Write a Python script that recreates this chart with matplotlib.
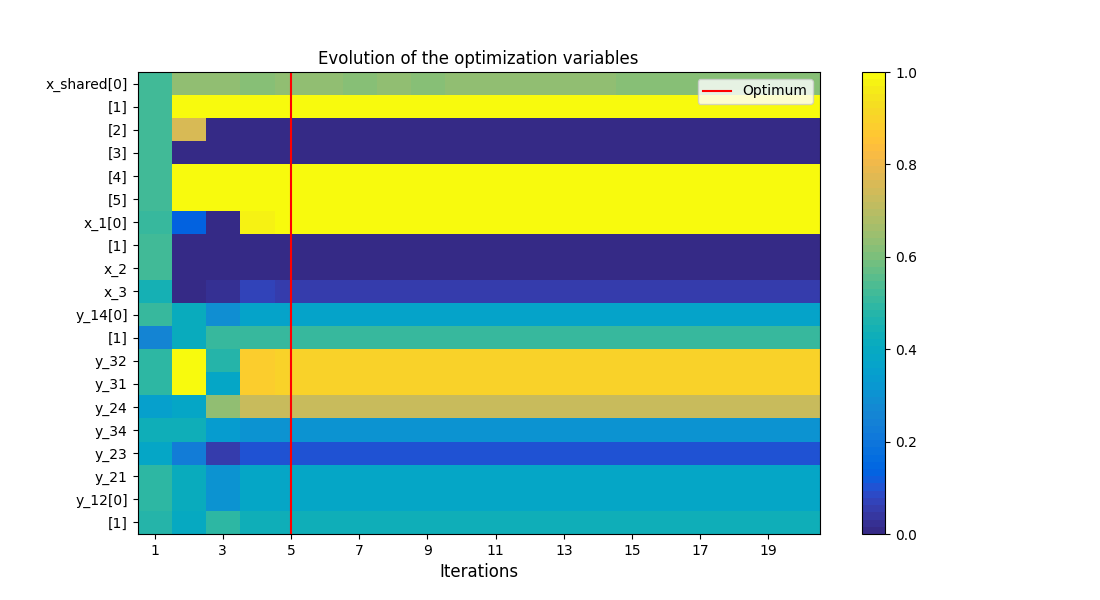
import numpy as np
import matplotlib
matplotlib.use("Agg")
import matplotlib.pyplot as plt
from matplotlib.colors import LinearSegmentedColormap

# parula (R2014b) 64-colour table
PARULA = [
    [0.2081, 0.1663, 0.5292], [0.2116, 0.1898, 0.5777], [0.2123, 0.2138, 0.6270],
    [0.2081, 0.2386, 0.6771], [0.1959, 0.2645, 0.7279], [0.1707, 0.2919, 0.7792],
    [0.1253, 0.3242, 0.8303], [0.0591, 0.3598, 0.8683], [0.0117, 0.3875, 0.8820],
    [0.0060, 0.4086, 0.8828], [0.0165, 0.4266, 0.8786], [0.0329, 0.4430, 0.8720],
    [0.0498, 0.4586, 0.8641], [0.0629, 0.4737, 0.8554], [0.0723, 0.4887, 0.8467],
    [0.0779, 0.5040, 0.8384], [0.0793, 0.5200, 0.8312], [0.0749, 0.5375, 0.8263],
    [0.0641, 0.5570, 0.8240], [0.0488, 0.5772, 0.8228], [0.0343, 0.5966, 0.8199],
    [0.0265, 0.6137, 0.8135], [0.0239, 0.6287, 0.8038], [0.0231, 0.6418, 0.7913],
    [0.0228, 0.6535, 0.7768], [0.0267, 0.6642, 0.7607], [0.0384, 0.6743, 0.7436],
    [0.0590, 0.6838, 0.7254], [0.0843, 0.6928, 0.7062], [0.1133, 0.7015, 0.6859],
    [0.1453, 0.7098, 0.6646], [0.1801, 0.7177, 0.6424], [0.2178, 0.7250, 0.6193],
    [0.2586, 0.7317, 0.5954], [0.3022, 0.7376, 0.5712], [0.3482, 0.7424, 0.5473],
    [0.3953, 0.7459, 0.5244], [0.4420, 0.7481, 0.5033], [0.4871, 0.7491, 0.4840],
    [0.5300, 0.7491, 0.4661], [0.5709, 0.7485, 0.4494], [0.6099, 0.7473, 0.4337],
    [0.6473, 0.7456, 0.4188], [0.6834, 0.7435, 0.4044], [0.7184, 0.7411, 0.3905],
    [0.7525, 0.7384, 0.3768], [0.7858, 0.7356, 0.3633], [0.8185, 0.7327, 0.3498],
    [0.8507, 0.7299, 0.3360], [0.8824, 0.7274, 0.3217], [0.9139, 0.7258, 0.3063],
    [0.9450, 0.7261, 0.2886], [0.9739, 0.7314, 0.2666], [0.9938, 0.7455, 0.2403],
    [0.9990, 0.7653, 0.2164], [0.9955, 0.7861, 0.1967], [0.9880, 0.8066, 0.1794],
    [0.9789, 0.8271, 0.1633], [0.9697, 0.8481, 0.1475], [0.9626, 0.8705, 0.1309],
    [0.9589, 0.8949, 0.1132], [0.9598, 0.9218, 0.0948], [0.9661, 0.9514, 0.0755],
    [0.9763, 0.9831, 0.0538],
]
cmap = LinearSegmentedColormap.from_list("parula", PARULA, N=64)

ROW_LABELS = ["x_shared[0]", "[1]", "[2]", "[3]", "[4]", "[5]", "x_1[0]", "[1]",
              "x_2", "x_3", "y_14[0]", "[1]", "y_32", "y_31", "y_24", "y_34",
              "y_23", "y_21", "y_12[0]", "[1]"]
N_ITER = 20
OPT_ITER = 5

# normalised design values per variable, iterations 1..20
x_shared_0 = [0.52, 0.64, 0.64, 0.62, 0.64, 0.64, 0.62, 0.64, 0.62, 0.64,
              0.64, 0.64, 0.64, 0.64, 0.62, 0.62, 0.62, 0.62, 0.62, 0.62]
x_shared_1 = [0.52] + [1.0] * 19
x_shared_2 = [0.52, 0.765] + [0.0] * 18
x_shared_3 = [0.52] + [0.0] * 19
x_shared_4 = [0.52] + [1.0] * 19
x_shared_5 = [0.52] + [1.0] * 19
x_1_0 = [0.50, 0.127, 0.0, 0.97] + [1.0] * 16
x_1_1 = [0.52] + [0.0] * 19
x_2 = [0.52] + [0.0] * 19
x_3 = [0.44, 0.0, 0.02, 0.075] + [0.055] * 16
y_14_0 = [0.51, 0.41, 0.29] + [0.365] * 17
y_14_1 = [0.265, 0.41] + [0.51] * 18
y_32 = [0.49, 1.0, 0.476, 0.875] + [0.905] * 16
y_31 = [0.49, 1.0, 0.38, 0.875] + [0.905] * 16
y_24 = [0.35, 0.375, 0.635] + [0.72] * 17
y_34 = [0.43, 0.43, 0.335] + [0.31] * 17
y_23 = [0.38, 0.22, 0.06] + [0.095] * 17
y_21 = [0.49, 0.42, 0.31] + [0.38] * 17
y_12_0 = [0.49, 0.42, 0.31] + [0.38] * 17
y_12_1 = [0.47, 0.40, 0.49] + [0.43] * 17

data = np.array([x_shared_0, x_shared_1, x_shared_2, x_shared_3, x_shared_4,
                 x_shared_5, x_1_0, x_1_1, x_2, x_3, y_14_0, y_14_1, y_32, y_31,
                 y_24, y_34, y_23, y_21, y_12_0, y_12_1])

fig = plt.figure(figsize=(11, 6), dpi=100)
ax = fig.add_subplot(111)
im = ax.imshow(data, cmap=cmap, vmin=0, vmax=1, aspect="auto", interpolation="nearest")
ax.axvline(OPT_ITER - 1, color="red", label="Optimum")
ax.set_yticks(range(len(ROW_LABELS)))
ax.set_yticklabels(ROW_LABELS)
ticks = np.arange(0, N_ITER, 2)
ax.set_xticks(ticks)
ax.set_xticklabels([str(t + 1) for t in ticks])
ax.set_xlabel("Iterations", fontsize=12)
ax.set_title("Evolution of the optimization variables")
ax.legend(loc="upper right")
fig.colorbar(im, ax=ax)
fig.savefig("out.png", dpi=100)
